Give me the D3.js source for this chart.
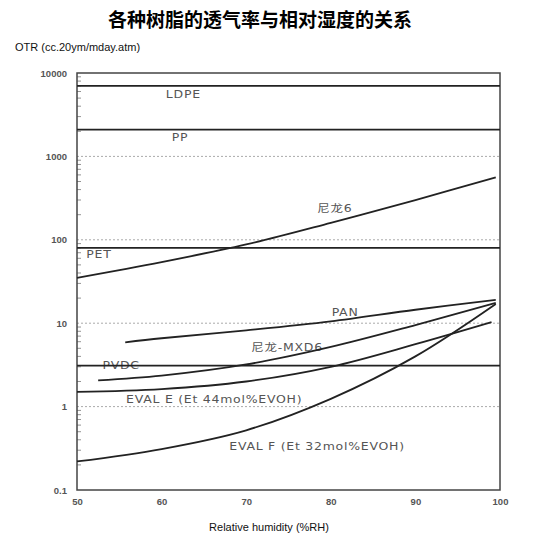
<!DOCTYPE html>
<html>
<head>
<meta charset="utf-8">
<script src="https://cdnjs.cloudflare.com/ajax/libs/d3/7.8.5/d3.min.js"></script>
<style>
  body { margin: 0; background: #fff; }
  text { font-family: "Liberation Sans", Arial, sans-serif; }
</style>
</head>
<body>
<div id="graph"></div>
<script>
// chart data
var title = "各种树脂的透气率与相对湿度的关系";
var yTitle = "OTR (cc.20ym/mday.atm)";
var xTitle = "Relative humidity (%RH)";
var xTicks = [50, 60, 70, 80, 90, 100];
var yTicks = [0.1, 1, 10, 100, 1000, 10000];

// flat resins: one value over the whole range
var flatNames = ["LDPE", "PP", "PET", "PVDC"];
var flatValues = [7000, 2100, 80, 3.1];

// curves: [RH, OTR]
var nylon6 = [[50, 35], [60, 54], [70, 88], [80, 160], [90, 300], [99.5, 560]];
var pan = [[55.7, 5.9], [60, 6.6], [70, 8.2], [80, 10.5], [90, 14.5], [99.5, 19]];
var mxd6 = [[52.5, 2.06], [60, 2.35], [70, 3.2], [80, 5.2], [90, 9.5], [99.5, 17.5]];
var evalE = [[50, 1.5], [60, 1.62], [70, 2.0], [80, 3.0], [90, 5.6], [99, 10.3]];
var evalF = [[50, 0.22], [60, 0.31], [70, 0.52], [80, 1.24], [90, 4.0], [99.5, 17]];
var curves = [nylon6, pan, mxd6, evalE, evalF];

var margin = {top: 73, right: 40, bottom: 50, left: 77};
var width = 540 - margin.left - margin.right,
    height = 540 - margin.top - margin.bottom;

var x = d3.scaleLinear().domain([50, 100]).range([0, width]);
var y = d3.scaleLog().domain([0.1, 10000]).range([height, 0]);

var svg = d3.select("#graph").append("svg")
    .attr("width", 540)
    .attr("height", 540);

// title
svg.append("text")
    .attr("x", 260)
    .attr("y", 27)
    .style("text-anchor", "middle")
    .style("font-family", "'Noto Sans CJK SC', sans-serif")
    .style("font-weight", "bold")
    .style("font-size", "19px")
    .text(title);

// y axis title
svg.append("text")
    .attr("x", 15)
    .attr("y", 51)
    .style("font-size", "11px")
    .attr("fill", "#111")
    .text(yTitle);

// x axis title
svg.append("text")
    .attr("x", 269)
    .attr("y", 531)
    .style("text-anchor", "middle")
    .style("font-size", "11px")
    .attr("fill", "#111")
    .text(xTitle);

var g = svg.append("g")
    .attr("transform", "translate(" + margin.left + "," + margin.top + ")");

// dotted decade lines
g.selectAll(".grid")
    .data(yTicks.slice(1, -1))
    .enter().append("line")
    .attr("x1", 0).attr("x2", width)
    .attr("y1", function(d) { return y(d); })
    .attr("y2", function(d) { return y(d); })
    .attr("stroke", "#aaa")
    .attr("stroke-width", 1)
    .attr("stroke-dasharray", "2,2");

// left axis, minor ticks pointing inward
var minor = [];
yTicks.slice(0, -1).forEach(function(t) {
  for (var k = 2; k <= 9; k++) minor.push(t * k);
});
g.selectAll(".minor")
    .data(minor)
    .enter().append("line")
    .attr("x1", 0).attr("x2", 4)
    .attr("y1", function(d) { return y(d); })
    .attr("y2", function(d) { return y(d); })
    .attr("stroke", "#777")
    .attr("stroke-width", 0.8);

var yAxis = g.append("g")
    .call(d3.axisLeft(y).tickValues(yTicks).tickSize(0).tickPadding(10)
      .tickFormat(function(d) { return d3.format("~g")(d); }));
yAxis.select(".domain").remove();
yAxis.selectAll("text")
    .style("font-size", "9.5px")
    .style("font-weight", "bold")
    .attr("fill", "#555");

var xAxis = g.append("g")
    .attr("transform", "translate(0," + height + ")")
    .call(d3.axisBottom(x).tickValues(xTicks).tickSize(0).tickPadding(8));
xAxis.select(".domain").remove();
xAxis.selectAll("text")
    .style("font-size", "9.5px")
    .style("font-weight", "bold")
    .attr("fill", "#555");

// frame
g.append("rect")
    .attr("width", width)
    .attr("height", height)
    .attr("fill", "none")
    .attr("stroke", "#444")
    .attr("stroke-width", 1.5);

// curve labels go under the lines so the PVDC text is crossed like the scan
var labels = [
  {t: "LDPE", rh: 60.5, v: 5000},
  {t: "PP", rh: 61.2, v: 1550},
  {t: "PET", rh: 51.1, v: 60},
  {t: "尼龙6", rh: 78.4, v: 215},
  {t: "PAN", rh: 80.1, v: 12.3},
  {t: "尼龙-MXD6", rh: 70.6, v: 4.7},
  {t: "PVDC", rh: 53, v: 2.85},
  {t: "EVAL E  (Et 44mol%EVOH)", rh: 55.8, v: 1.1},
  {t: "EVAL F (Et 32mol%EVOH)", rh: 68, v: 0.3}
];
g.selectAll(".lbl")
    .data(labels)
    .enter().append("text")
    .attr("transform", function(d) {
      return "translate(" + x(d.rh) + "," + y(d.v) + ") scale(1.25,1)";
    })
    .style("font-family", "'DejaVu Sans', 'Noto Sans CJK SC', sans-serif")
    .style("font-size", "10px")
    .style("letter-spacing", "0.6px")
    .attr("fill", "#555")
    .text(function(d) { return d.t; });

// flat lines
g.selectAll(".flat")
    .data(flatValues)
    .enter().append("line")
    .attr("x1", 0).attr("x2", width)
    .attr("y1", function(d) { return y(d); })
    .attr("y2", function(d) { return y(d); })
    .attr("stroke", "#222")
    .attr("stroke-width", 1.8);

// curves
var line = d3.line()
    .x(function(d) { return x(d[0]); })
    .y(function(d) { return y(d[1]); })
    .curve(d3.curveCatmullRom.alpha(0.5));

g.selectAll(".curve")
    .data(curves)
    .enter().append("path")
    .attr("d", line)
    .attr("fill", "none")
    .attr("stroke", "#222")
    .attr("stroke-width", 1.8);
</script>
</body>
</html>
